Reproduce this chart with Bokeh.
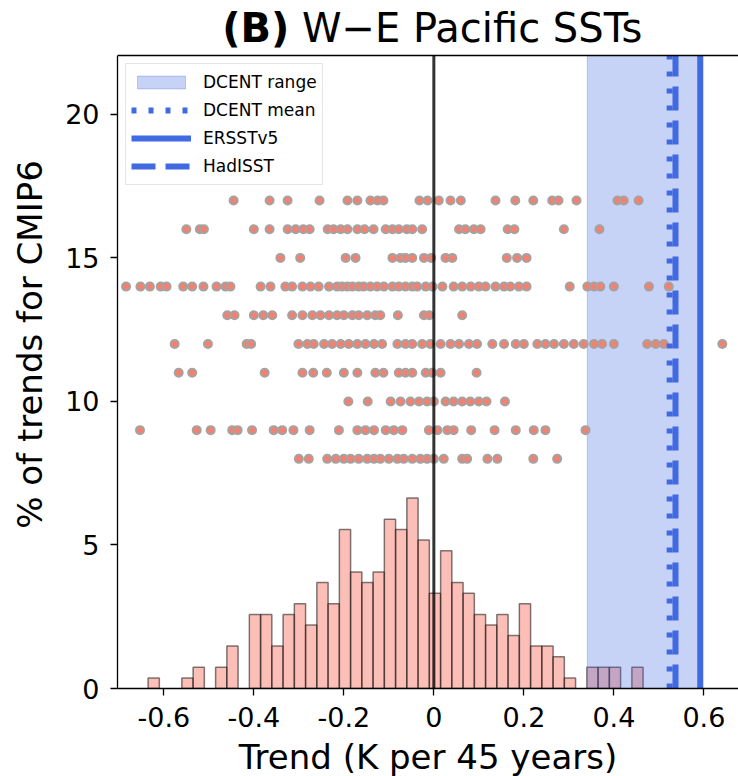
from bokeh.plotting import figure
from bokeh.models import (Range1d, FixedTicker, Label, Legend, LegendItem)
from bokeh.embed import file_html
from bokeh.resources import INLINE

# ---------------- data ----------------
# histogram: 44 regular bins of 0.025 K starting at -0.635, values in % of trends
hist_start = -0.635
hist_bin = 0.025
hist_pct = [0.37, 0, 0, 0.37, 0.74, 0, 0.74, 1.48, 0, 2.58,
            2.58, 1.48, 2.58, 2.95, 2.21, 3.69, 2.95, 5.54, 4.06, 3.69,
            4.06, 5.90, 5.54, 6.64, 5.17, 3.32, 4.80, 3.69, 3.32, 2.58,
            2.21, 2.58, 1.85, 2.95, 1.48, 1.48, 1.11, 0.37, 0, 0.74,
            0.74, 0.74, 0, 0.74]

# individual trends (rows of dots at y = 8 ... 17)
row8 = [-0.300, -0.278, -0.237, -0.218, -0.200, -0.185, -0.167, -0.148, -0.133, -0.119,
        -0.100, -0.081, -0.067, -0.048, -0.030, -0.015, 0.000, 0.022, 0.063, 0.074,
        0.119, 0.141, 0.221, 0.274]
row9 = [-0.653, -0.527, -0.496, -0.448, -0.436, -0.404, -0.356, -0.337, -0.312, -0.276,
        -0.211, -0.170, -0.152, -0.133, -0.107, -0.089, -0.070, -0.011, 0.008, 0.030,
        0.044, 0.083, 0.135, 0.182, 0.222, 0.248, 0.337]
row10 = [-0.190, -0.147, -0.096, -0.074, -0.052, -0.033, -0.015, 0.000, 0.026, 0.044,
         0.063, 0.081, 0.100, 0.117, 0.158]
row11 = [-0.567, -0.537, -0.376, -0.292, -0.268, -0.238, -0.200, -0.170, -0.130, -0.112,
         -0.078, -0.063, -0.048, -0.018, -0.004, 0.015, 0.095]
row12 = [-0.576, -0.502, -0.416, -0.406, -0.301, -0.281, -0.267, -0.244, -0.226, -0.207,
         -0.189, -0.170, -0.152, -0.133, -0.115, -0.081, -0.063, -0.048, -0.026, -0.008,
         0.015, 0.037, 0.056, 0.078, 0.096, 0.130, 0.156, 0.182, 0.200, 0.230,
         0.248, 0.267, 0.289, 0.311, 0.333, 0.356, 0.374, 0.400, 0.474, 0.493,
         0.511, 0.641]
row13 = [-0.459, -0.443, -0.400, -0.379, -0.359, -0.315, -0.292, -0.270, -0.252, -0.233,
         -0.215, -0.200, -0.181, -0.167, -0.148, -0.130, -0.119, -0.080, -0.022, -0.010,
         0.063]
row14 = [-0.684, -0.652, -0.631, -0.607, -0.594, -0.557, -0.537, -0.512, -0.483, -0.463,
         -0.452, -0.385, -0.363, -0.330, -0.315, -0.292, -0.274, -0.256, -0.233, -0.215,
         -0.204, -0.192, -0.181, -0.167, -0.156, -0.141, -0.126, -0.111, -0.092, -0.078,
         -0.063, -0.048, -0.037, -0.018, -0.003, 0.019, 0.044, 0.063, 0.082, 0.100,
         0.115, 0.137, 0.156, 0.170, 0.189, 0.206, 0.302, 0.341, 0.356, 0.370,
         0.400, 0.478, 0.522]
row15 = [-0.341, -0.297, -0.196, -0.174, -0.092, -0.074, -0.063, -0.048, -0.022, -0.006,
         0.026, 0.041, 0.162, 0.185, 0.206]
row16 = [-0.550, -0.520, -0.511, -0.400, -0.365, -0.325, -0.307, -0.290, -0.276, -0.236,
         -0.223, -0.207, -0.192, -0.170, -0.154, -0.134, -0.107, -0.092, -0.078, -0.060,
         -0.048, -0.026, 0.056, 0.070, 0.089, 0.104, 0.164, 0.179, 0.289, 0.368]
row17 = [-0.445, -0.365, -0.325, -0.254, -0.192, -0.170, -0.141, -0.125, -0.112, -0.032,
         -0.014, 0.011, 0.037, 0.060, 0.137, 0.181, 0.221, 0.263, 0.277, 0.317,
         0.408, 0.422, 0.455]
dot_rows = {8: row8, 9: row9, 10: row10, 11: row11, 12: row12,
            13: row13, 14: row14, 15: row15, 16: row16, 17: row17}

# observations
dcent_lo = 0.341
dcent_hi = 0.592
dcent_mean = 0.524
ersst = 0.592
hadisst = 0.537

x_ticks = [-0.6, -0.4, -0.2, 0.0, 0.2, 0.4, 0.6]
x_tick_labels = ["-0.6", "-0.4", "-0.2", "0", "0.2", "0.4", "0.6"]
y_ticks = [0, 5, 10, 15, 20]
y_tick_labels = ["0", "5", "10", "15", "20"]
x_min, x_max = -0.703, 0.677
y_min, y_max = 0, 22.05          # axes limits (top spine at y_max)

title_bold = "(B)"
title_rest = "W\u2212E Pacific SSTs"
x_label = "Trend (K per 45 years)"
y_label = "% of trends for CMIP6"

FONT = "DejaVu Sans"
# layout (pixels): the plotting frame also holds the title band above the axes
LEFT, FRAME_W, TITLE_H, AXES_H, BOTTOM = 117, 621, 55, 633, 88
FRAME_H = TITLE_H + AXES_H
y_frame_top = y_max * FRAME_H / AXES_H
title_y = y_max + (TITLE_H - 27) * y_max / AXES_H   # title anchor 27 px from top

p = figure(frame_width=FRAME_W, frame_height=FRAME_H,
           x_range=Range1d(x_min, x_max), y_range=Range1d(y_min, y_frame_top),
           output_backend="svg", toolbar_location=None,
           min_border_left=LEFT, min_border_right=0, min_border_top=0,
           min_border_bottom=BOTTOM)
p.outline_line_color = None
p.grid.visible = False
p.background_fill_color = "white"
p.border_fill_color = "white"

# histogram
lefts, rights, tops = [], [], []
for k, v in enumerate(hist_pct):
    if v > 0:
        lefts.append(hist_start + k * hist_bin)
        rights.append(hist_start + (k + 1) * hist_bin)
        tops.append(v)
p.quad(left=lefts, right=rights, bottom=0, top=tops,
       fill_color="salmon", fill_alpha=0.5,
       line_color="black", line_alpha=0.5, line_width=1.5)

# DCENT range
r_range = p.quad(left=[dcent_lo], right=[dcent_hi], bottom=[y_min], top=[y_max],
                 fill_color="royalblue", fill_alpha=0.3,
                 line_color="royalblue", line_alpha=0.3, line_width=1)

# dots
xs, ys = [], []
for yrow, vals in dot_rows.items():
    xs.extend(vals)
    ys.extend([yrow] * len(vals))
p.scatter(x=xs, y=ys, size=8, marker="circle", fill_color="#F5806F",
          line_color="#A3A3A3", line_width=2)

# zero line
p.segment(x0=[0], y0=[y_min], x1=[0], y1=[y_max], line_color="black",
          line_alpha=0.8, line_width=3)

# observational lines
r_mean = p.segment(x0=[dcent_mean], y0=[y_min], x1=[dcent_mean], y1=[y_max],
                   line_color="royalblue", line_width=6, line_dash="5 12")
r_ersst = p.segment(x0=[ersst], y0=[y_min], x1=[ersst], y1=[y_max],
                    line_color="royalblue", line_width=6)
r_had = p.segment(x0=[hadisst], y0=[y_min], x1=[hadisst], y1=[y_max],
                  line_color="royalblue", line_width=6, line_dash="24 10")

# top spine of the axes box
p.segment(x0=[x_min], y0=[y_max], x1=[x_max], y1=[y_max], line_color="black",
          line_width=1.3)

legend = Legend(items=[LegendItem(label="DCENT range", renderers=[r_range]),
                       LegendItem(label="DCENT mean", renderers=[r_mean]),
                       LegendItem(label="ERSSTv5", renderers=[r_ersst]),
                       LegendItem(label="HadISST", renderers=[r_had])],
                location=(8, 503))
legend.label_text_font = FONT
legend.label_text_font_size = "17px"
legend.label_text_color = "black"
legend.glyph_width = 60
legend.glyph_height = 16
legend.label_height = 26
legend.spacing = 2
legend.padding = 5
legend.label_standoff = 12
legend.margin = 0
legend.border_line_color = "#cccccc"
legend.border_line_width = 1
legend.background_fill_alpha = 0.85
p.add_layout(legend)

# title
p.add_layout(Label(x=-0.3213, y=title_y, text=title_bold, text_align="right",
                   text_baseline="alphabetic", text_font=FONT, text_font_size="40px",
                   text_font_style="bold", text_color="black"))
p.add_layout(Label(x=-0.2931, y=title_y, text=title_rest, text_align="left",
                   text_baseline="alphabetic", text_font=FONT, text_font_size="40px",
                   text_color="black"))

# axes
for ax in (p.xaxis[0], p.yaxis[0]):
    ax.axis_line_color = "black"
    ax.axis_line_width = 1.3
    ax.major_tick_line_color = "black"
    ax.major_tick_line_width = 1.3
    ax.major_tick_out = 7
    ax.major_tick_in = 0
    ax.minor_tick_out = 0
    ax.minor_tick_in = 0
    ax.major_label_text_font = FONT
    ax.major_label_text_font_size = "27px"
    ax.major_label_text_color = "black"
    ax.axis_label_text_font = FONT
    ax.axis_label_text_font_size = "34px"
    ax.axis_label_text_font_style = "normal"
    ax.axis_label_text_color = "black"

p.xaxis.ticker = FixedTicker(ticks=x_ticks)
p.xaxis.major_label_overrides = dict(zip(x_ticks, x_tick_labels))
p.xaxis.major_label_standoff = 11
p.xaxis.axis_label = x_label
p.xaxis.axis_label_standoff = 7

p.yaxis.ticker = FixedTicker(ticks=y_ticks)
p.yaxis.bounds = (y_min, y_max)
p.yaxis.major_label_overrides = dict(zip(y_ticks, y_tick_labels))
p.yaxis.major_label_standoff = 11
p.yaxis.axis_label = y_label
p.yaxis.axis_label_standoff = 12

open("out.html", "w").write(file_html(p, INLINE))
